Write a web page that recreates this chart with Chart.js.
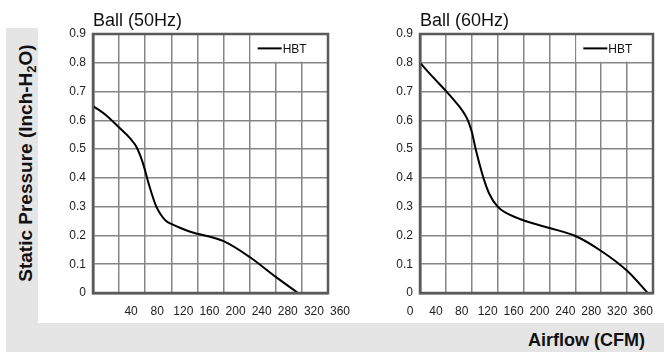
<!DOCTYPE html>
<html>
<head>
<meta charset="utf-8">
<script src="https://cdn.jsdelivr.net/npm/chart.js@4/dist/chart.umd.min.js"></script>
<style>
  body { margin: 0; width: 664px; height: 352px; position: relative; overflow: hidden; background: #fff;
         font-family: "Liberation Sans", Arial, sans-serif; }
  .band { position: absolute; background: #e5e5e5; }
  .cv { position: absolute; top: 0; }
  #ytitle { position: absolute; left: -124px; top: 152px; width: 300px; height: 22px; line-height: 22px;
            text-align: center; font-weight: bold; font-size: 19px; color: #111; transform: rotate(-90deg); white-space: nowrap; }
  #ytitle sub { font-size: 13px; vertical-align: -4px; line-height: 0; }
  #xtitle { position: absolute; left: 528px; top: 329px; line-height: 22px; font-weight: bold; font-size: 18px; color: #111; white-space: nowrap; }
</style>
</head>
<body>
<div class="band" style="left:6px;top:28px;width:32px;height:295px"></div>
<div class="band" style="left:6px;top:323px;width:658px;height:29px"></div>
<div id="ytitle">Static Pressure (Inch-H<sub>2</sub>O)</div>
<div id="xtitle">Airflow (CFM)</div>
<div class="cv" style="left:0;width:370px;height:323px"><canvas id="c50"></canvas></div>
<div class="cv" style="left:340px;width:324px;height:323px"><canvas id="c60"></canvas></div>
<script>
// Ball (50Hz)
const flow50 = [0, 20, 40, 57, 66, 72, 78, 84, 90, 97, 104, 112, 120, 135, 149, 200, 240, 280, 314];
const pres50 = [0.65, 0.618, 0.575, 0.537, 0.51, 0.48, 0.44, 0.39, 0.345, 0.3, 0.272, 0.25, 0.24, 0.225, 0.213, 0.18, 0.125, 0.056, 0];
// Ball (60Hz)
const flow60 = [0, 20, 41, 60, 68, 74, 80, 86, 98, 107, 120, 150, 200, 240, 280, 320, 352];
const pres60 = [0.8, 0.75, 0.7, 0.65, 0.625, 0.6, 0.56, 0.5, 0.4, 0.345, 0.3, 0.261, 0.226, 0.198, 0.146, 0.077, 0];

const seriesName = 'HBT';
const xTicks = [0, 40, 80, 120, 160, 200, 240, 280, 320, 360];
const yTicks = [0, 0.1, 0.2, 0.3, 0.4, 0.5, 0.6, 0.7, 0.8, 0.9];

const tickFont = { family: 'Liberation Sans', size: 12 };

// white legend box in the top right cell, plus the dark frame
const boxLegend = {
    id: 'boxLegend',
    afterDatasetsDraw(chart) {
        const ctx = chart.ctx;
        const a = chart.chartArea;
        const xs = chart.scales.x, ys = chart.scales.y;
        const x0 = xs.getPixelForValue(240);
        const y1 = ys.getPixelForValue(0.8);
        ctx.save();
        ctx.fillStyle = '#fff';
        ctx.fillRect(x0 + 1, a.top + 1, a.right - x0 - 2, y1 - a.top - 2);
        const ym = (a.top + y1) / 2;
        ctx.strokeStyle = '#000';
        ctx.lineWidth = 2;
        ctx.beginPath();
        ctx.moveTo(x0 + 8, ym);
        ctx.lineTo(x0 + 32, ym);
        ctx.stroke();
        ctx.fillStyle = '#111';
        ctx.font = '12px "Liberation Sans"';
        ctx.textBaseline = 'middle';
        ctx.fillText(chart.data.datasets[0].label, x0 + 33, ym + 1);
        ctx.strokeStyle = '#5a5a5a';
        ctx.lineWidth = 2.5;
        ctx.strokeRect(a.left, a.top, a.right - a.left, a.bottom - a.top);
        ctx.restore();
    }
};

function makeChart(id, title, flow, pres, pad, xOffset, hideZero) {
    return new Chart(document.getElementById(id), {
        type: 'line',
        data: {
            datasets: [{
                label: seriesName,
                data: flow.map((x, i) => ({ x: x, y: pres[i] })),
                borderColor: '#000',
                borderWidth: 2,
                pointRadius: 0,
                cubicInterpolationMode: 'monotone',
                fill: false
            }]
        },
        options: {
            responsive: true,
            maintainAspectRatio: false,
            animation: false,
            layout: { padding: pad },
            plugins: {
                legend: { display: false },
                tooltip: { enabled: false },
                title: {
                    display: true,
                    text: title,
                    align: 'start',
                    fullSize: false,
                    color: '#111',
                    font: { family: 'Liberation Sans', size: 18, weight: 'normal' },
                    padding: { top: 10, bottom: 2.4 }
                }
            },
            scales: {
                x: {
                    type: 'linear',
                    min: 0,
                    max: 360,
                    afterBuildTicks: s => { s.ticks = xTicks.map(v => ({ value: v })); },
                    afterFit: s => { s.height = 30; s.paddingLeft = 0; s.paddingRight = 0; },
                    grid: { color: '#858585', lineWidth: 1.5, drawTicks: false },
                    border: { color: '#5a5a5a', width: 2.5 },
                    ticks: {
                        color: '#222',
                        font: tickFont,
                        padding: 11,
                        labelOffset: xOffset,
                        maxRotation: 0,
                        autoSkip: false,
                        callback: v => (hideZero && v === 0) ? '' : String(v)
                    }
                },
                y: {
                    type: 'linear',
                    min: 0,
                    max: 0.9,
                    afterBuildTicks: s => { s.ticks = yTicks.map(v => ({ value: v })); },
                    afterFit: s => { s.width = 50; s.paddingTop = 0; s.paddingBottom = 0; },
                    grid: { color: '#858585', lineWidth: 1.5, drawTicks: false },
                    border: { color: '#5a5a5a', width: 2.5 },
                    ticks: {
                        color: '#222',
                        font: tickFont,
                        padding: 7,
                        autoSkip: false,
                        callback: v => v === 0 ? '0' : v.toFixed(1)
                    }
                }
            }
        },
        plugins: [boxLegend]
    });
}

makeChart('c50', 'Ball (50Hz)', flow50, pres50, { left: 43, right: 42, top: 0, bottom: 0 }, 12, true);
makeChart('c60', 'Ball (60Hz)', flow60, pres60, { left: 30, right: 11, top: 0, bottom: 0 }, -10, false);
</script>
</body>
</html>
